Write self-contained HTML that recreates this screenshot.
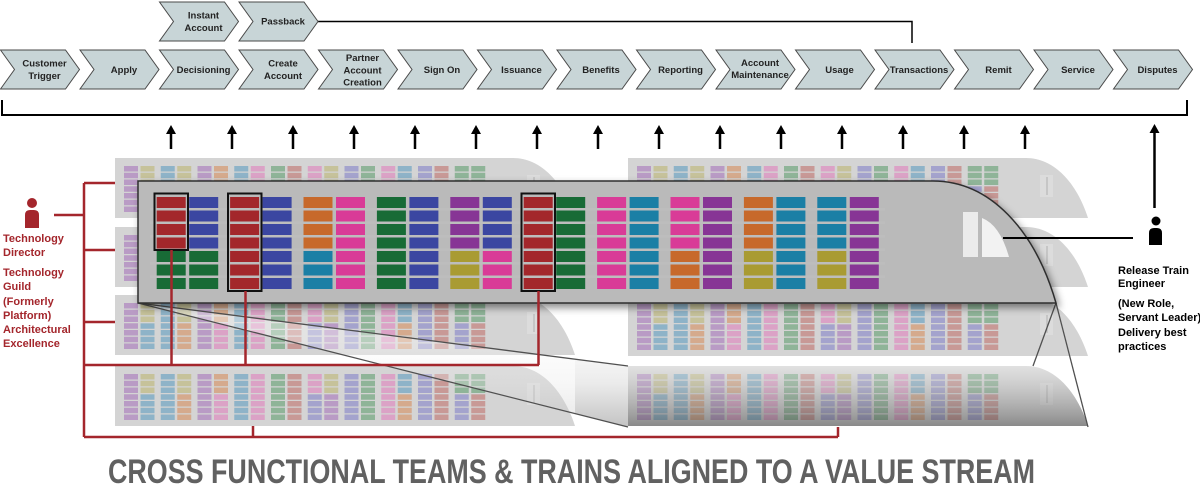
<!DOCTYPE html>
<html><head><meta charset="utf-8"><style>
html,body{margin:0;padding:0;background:#fff;}
svg{display:block;}
text{font-family:"Liberation Sans",sans-serif;font-weight:bold;}
</style></head><body>
<svg width="1200" height="493" viewBox="0 0 1200 493" xmlns="http://www.w3.org/2000/svg">
<defs>
<path id="bgs" d="M0 0H398C426 0 448.5 24.5 460 60H0Z"/>
<g id="bgb">
<rect x="9" y="8" width="14" height="46" fill="#b99bc5"/>
<rect x="25.5" y="8" width="14" height="20.25" fill="#c6c29a"/>
<rect x="25.5" y="28.25" width="14" height="25.75" fill="#8eb3c8"/>
<rect x="45.75" y="8" width="14" height="46" fill="#8eb3c8"/>
<rect x="62.25" y="8" width="14" height="20.25" fill="#c6c29a"/>
<rect x="62.25" y="28.25" width="14" height="25.75" fill="#d5aa8d"/>
<rect x="82.5" y="8" width="14" height="46" fill="#b99bc5"/>
<rect x="99" y="8" width="14" height="20.25" fill="#d5aa8d"/>
<rect x="99" y="28.25" width="14" height="25.75" fill="#dba2c6"/>
<rect x="119.25" y="8" width="14" height="46" fill="#8eb3c8"/>
<rect x="135.75" y="8" width="14" height="46" fill="#dba2c6"/>
<rect x="156" y="8" width="14" height="46" fill="#8fb498"/>
<rect x="172.5" y="8" width="14" height="46" fill="#c89996"/>
<rect x="192.75" y="8" width="14" height="20.25" fill="#dba2c6"/>
<rect x="192.75" y="28.25" width="14" height="25.75" fill="#a4a3cd"/>
<rect x="209.25" y="8" width="14" height="20.25" fill="#c6c29a"/>
<rect x="209.25" y="28.25" width="14" height="25.75" fill="#b99bc5"/>
<rect x="229.5" y="8" width="14" height="46" fill="#a4a3cd"/>
<rect x="246" y="8" width="14" height="46" fill="#8fb498"/>
<rect x="266.25" y="8" width="14" height="46" fill="#dba2c6"/>
<rect x="282.75" y="8" width="14" height="20.25" fill="#8eb3c8"/>
<rect x="282.75" y="28.25" width="14" height="25.75" fill="#d5aa8d"/>
<rect x="303" y="8" width="14" height="46" fill="#a4a3cd"/>
<rect x="319.5" y="8" width="14" height="46" fill="#c89996"/>
<rect x="339.75" y="8" width="14" height="20.25" fill="#8fb498"/>
<rect x="339.75" y="28.25" width="14" height="25.75" fill="#a4a3cd"/>
<rect x="356.25" y="8" width="14" height="20.25" fill="#8fb498"/>
<rect x="356.25" y="28.25" width="14" height="25.75" fill="#c89996"/>
<g fill="#d4d4d4">
<rect x="8" y="13.5" width="364" height="1.25"/>
<rect x="8" y="20.25" width="364" height="1.25"/>
<rect x="8" y="27" width="364" height="1.25"/>
<rect x="8" y="33.75" width="364" height="1.25"/>
<rect x="8" y="40.5" width="364" height="1.25"/>
<rect x="8" y="47.25" width="364" height="1.25"/>
</g>
<rect x="412" y="17" width="13" height="22" fill="#dcdcdc"/>
<rect x="418.5" y="19" width="1" height="18" fill="#b0b0b0"/>
</g>
<linearGradient id="dark" x1="0" y1="0" x2="0" y2="1">
<stop offset="0" stop-color="#ffffff" stop-opacity="0.3"/>
<stop offset="1" stop-color="#303030" stop-opacity="0.45"/>
</linearGradient>
<linearGradient id="cone" gradientUnits="userSpaceOnUse" x1="0" y1="340" x2="0" y2="427">
<stop offset="0" stop-color="#ffffff" stop-opacity="0.9"/>
<stop offset="0.5" stop-color="#e6e6e6" stop-opacity="0.8"/>
<stop offset="1" stop-color="#b8b8b8" stop-opacity="0.85"/>
</linearGradient>
<filter id="sh" x="-5%" y="-15%" width="115%" height="140%">
<feDropShadow dx="3" dy="4" stdDeviation="4" flood-color="#000" flood-opacity="0.45"/>
</filter>
<polygon id="chev" points="0,50 65,50 79,69.5 65,89 0,89 14,69.5"/>
<g id="arr"><path d="M0 125 L-5 134 H5 Z"/><rect x="-1.25" y="133" width="2.5" height="16"/></g>
</defs>

<rect width="1200" height="493" fill="#fff"/>

<!-- background trains -->
<g fill="#d4d4d4">
<use href="#bgs" x="115" y="158"/>
<use href="#bgs" x="115" y="227"/>
<use href="#bgs" x="115" y="295"/>
<use href="#bgs" x="115" y="366"/>
<use href="#bgs" x="628" y="158"/>
<use href="#bgs" x="628" y="227"/>
<use href="#bgs" x="628" y="296"/>
<use href="#bgs" x="628" y="366"/>
</g>
<use href="#bgb" x="115" y="158"/>
<use href="#bgb" x="115" y="227"/>
<use href="#bgb" x="115" y="295"/>
<use href="#bgb" x="115" y="366"/>
<use href="#bgb" x="628" y="158"/>
<use href="#bgb" x="628" y="227"/>
<use href="#bgb" x="628" y="296"/>
<use href="#bgb" x="628" y="366"/>
<use href="#bgs" x="628" y="366" fill="url(#dark)"/>

<!-- projection cone -->
<polygon points="138,303 575,359.2 575,413.6" fill="url(#cone)" opacity="0.4"/>
<polygon points="575,359.2 628,366 628,427 575,413.6" fill="url(#cone)"/>
<g stroke="#505050" stroke-width="1.3" fill="none">
<line x1="138" y1="303" x2="628" y2="366"/>
<line x1="138" y1="303" x2="628" y2="427"/>
<line x1="1056" y1="303" x2="1033" y2="366"/>
<line x1="1056" y1="303" x2="1088" y2="427"/>
</g>

<!-- main train -->
<path d="M138 181H933C990 181 1035 230 1056 303H138Z" fill="#bababa" stroke="#2e2e2e" stroke-width="1.5" filter="url(#sh)"/>
<g>
<rect x="156.7" y="197" width="29" height="54" fill="#a3272b"/>
<rect x="156.7" y="251" width="29" height="38" fill="#186b36"/>
<rect x="189.2" y="197" width="29" height="54" fill="#3b46a1"/>
<rect x="189.2" y="251" width="29" height="38" fill="#186b36"/>
<rect x="230.1" y="197" width="29" height="92" fill="#a3272b"/>
<rect x="262.6" y="197" width="29" height="92" fill="#3b46a1"/>
<rect x="303.5" y="197" width="29" height="54" fill="#c7692b"/>
<rect x="303.5" y="251" width="29" height="38" fill="#1b7fa5"/>
<rect x="336" y="197" width="29" height="92" fill="#d93b97"/>
<rect x="376.9" y="197" width="29" height="92" fill="#186b36"/>
<rect x="409.4" y="197" width="29" height="92" fill="#3b46a1"/>
<rect x="450.3" y="197" width="29" height="54" fill="#873595"/>
<rect x="450.3" y="251" width="29" height="38" fill="#a99b33"/>
<rect x="482.8" y="197" width="29" height="54" fill="#3b46a1"/>
<rect x="482.8" y="251" width="29" height="38" fill="#d93b97"/>
<rect x="523.7" y="197" width="29" height="92" fill="#a3272b"/>
<rect x="556.2" y="197" width="29" height="92" fill="#186b36"/>
<rect x="597.1" y="197" width="29" height="92" fill="#d93b97"/>
<rect x="629.6" y="197" width="29" height="92" fill="#1b7fa5"/>
<rect x="670.5" y="197" width="29" height="54" fill="#d93b97"/>
<rect x="670.5" y="251" width="29" height="38" fill="#c7692b"/>
<rect x="703" y="197" width="29" height="92" fill="#873595"/>
<rect x="743.9" y="197" width="29" height="54" fill="#c7692b"/>
<rect x="743.9" y="251" width="29" height="38" fill="#a99b33"/>
<rect x="776.4" y="197" width="29" height="92" fill="#1b7fa5"/>
<rect x="817.3" y="197" width="29" height="54" fill="#1b7fa5"/>
<rect x="817.3" y="251" width="29" height="38" fill="#a99b33"/>
<rect x="849.8" y="197" width="29" height="92" fill="#873595"/>
</g>
<g fill="#bdbdbd">
<rect x="150" y="208" width="735" height="2.5"/>
<rect x="150" y="221.5" width="735" height="2.5"/>
<rect x="150" y="235" width="735" height="2.5"/>
<rect x="150" y="248.5" width="735" height="2.5"/>
<rect x="150" y="262" width="735" height="2.5"/>
<rect x="150" y="275.5" width="735" height="2.5"/>
</g>
<g fill="none" stroke="#111" stroke-width="2">
<rect x="154.5" y="193.5" width="33.5" height="56.5"/>
<rect x="228" y="193.5" width="33.5" height="97.5"/>
<rect x="521.5" y="193.5" width="33.5" height="97.5"/>
</g>
<rect x="963" y="212" width="15" height="45" fill="#ebebeb"/>
<path d="M982 218Q1000 225 1009 257H982Z" fill="#f2f2f2"/>

<!-- red connectors -->
<g stroke="#a4262c" stroke-width="2.5" fill="none">
<line x1="54" y1="215" x2="84" y2="215"/>
<line x1="84" y1="183" x2="84" y2="437"/>
<line x1="84" y1="183" x2="115" y2="183"/>
<line x1="84" y1="250" x2="115" y2="250"/>
<line x1="84" y1="322" x2="115" y2="322"/>
<line x1="84" y1="365" x2="539" y2="365"/>
<line x1="84" y1="437" x2="838" y2="437"/>
<line x1="171.5" y1="250" x2="171.5" y2="365"/>
<line x1="245.5" y1="291" x2="245.5" y2="365"/>
<line x1="538.5" y1="291" x2="538.5" y2="365"/>
<line x1="253" y1="426" x2="253" y2="437"/>
<line x1="838" y1="427" x2="838" y2="437"/>
</g>
<g fill="#a4262c">
<circle cx="32" cy="203" r="5"/>
<path d="M25 228V215Q25 210 30 210H34Q39 210 39 215V228Z"/>
</g>
<g fill="#a4262c" font-size="11">
<text x="3" y="242">Technology</text>
<text x="3" y="256">Director</text>
<text x="3" y="276">Technology</text>
<text x="3" y="290">Guild</text>
<text x="3" y="305">(Formerly</text>
<text x="3" y="319">Platform)</text>
<text x="3" y="333">Architectural</text>
<text x="3" y="347">Excellence</text>
</g>

<!-- release train engineer -->
<line x1="1003" y1="238" x2="1133" y2="238" stroke="#000" stroke-width="2"/>
<g fill="#000">
<circle cx="1156" cy="221" r="4.5"/>
<path d="M1149 245V233Q1149 228 1154 228H1157Q1162 228 1162 233V245Z"/>
</g>
<g fill="#000" font-size="11">
<text x="1118" y="274">Release Train</text>
<text x="1118" y="287">Engineer</text>
<text x="1118" y="307">(New Role,</text>
<text x="1118" y="321">Servant Leader)</text>
<text x="1118" y="336">Delivery best</text>
<text x="1118" y="350">practices</text>
</g>

<!-- arrows -->
<g fill="#000">
<use href="#arr" x="171"/><use href="#arr" x="232"/><use href="#arr" x="293"/>
<use href="#arr" x="354"/><use href="#arr" x="415"/><use href="#arr" x="476"/>
<use href="#arr" x="537"/><use href="#arr" x="598"/><use href="#arr" x="659"/>
<use href="#arr" x="720"/><use href="#arr" x="781"/><use href="#arr" x="842"/>
<use href="#arr" x="903"/><use href="#arr" x="964"/><use href="#arr" x="1025"/>
<path d="M1154.5 124 L1149.5 133 H1159.5 Z"/>
<rect x="1153.25" y="132" width="2.5" height="76"/>
</g>

<!-- bracket and passback line -->
<path d="M2 100V115H1187V100" fill="none" stroke="#000" stroke-width="2"/>
<path d="M317 21.5H912V43" fill="none" stroke="#000" stroke-width="1.5"/>

<!-- chevrons -->
<g fill="#c8d5d7" stroke="#4a4a4a" stroke-width="1">
<use href="#chev" x="0.5"/><use href="#chev" x="80"/><use href="#chev" x="159.5"/>
<use href="#chev" x="239"/><use href="#chev" x="318.5"/><use href="#chev" x="398"/>
<use href="#chev" x="477.5"/><use href="#chev" x="557"/><use href="#chev" x="636.5"/>
<use href="#chev" x="716"/><use href="#chev" x="795.5"/><use href="#chev" x="875"/>
<use href="#chev" x="954.5"/><use href="#chev" x="1034"/><use href="#chev" x="1113.5"/>
<use href="#chev" x="159.5" y="-48"/><use href="#chev" x="239" y="-48"/>
</g>
<g fill="#222" font-size="9.5" text-anchor="middle">
<text x="44.5" y="66.5">Customer</text><text x="44.5" y="79">Trigger</text>
<text x="124" y="73">Apply</text>
<text x="203.5" y="73">Decisioning</text>
<text x="283" y="66.5">Create</text><text x="283" y="79">Account</text>
<text x="362.5" y="61">Partner</text><text x="362.5" y="73.5">Account</text><text x="362.5" y="85.5">Creation</text>
<text x="442" y="73">Sign On</text>
<text x="521.5" y="73">Issuance</text>
<text x="601" y="73">Benefits</text>
<text x="680.5" y="73">Reporting</text>
<text x="760" y="66">Account</text><text x="760" y="78">Maintenance</text>
<text x="839.5" y="73">Usage</text>
<text x="919" y="73">Transactions</text>
<text x="998.5" y="73">Remit</text>
<text x="1078" y="73">Service</text>
<text x="1157.5" y="73">Disputes</text>
<text x="203.5" y="18.5">Instant</text><text x="203.5" y="31">Account</text>
<text x="283" y="24.5">Passback</text>
</g>

<!-- title -->
<text x="108" y="483" font-size="34" textLength="927" lengthAdjust="spacingAndGlyphs" fill="#616161">CROSS FUNCTIONAL TEAMS &amp; TRAINS ALIGNED TO A VALUE STREAM</text>
</svg>
</body></html>
